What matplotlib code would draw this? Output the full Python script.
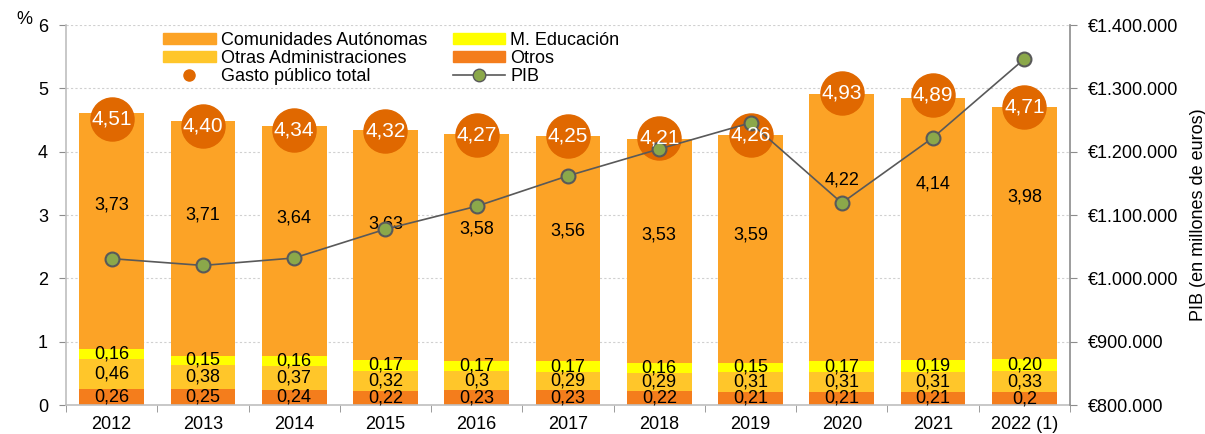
import matplotlib
matplotlib.use("Agg")
import matplotlib.pyplot as plt
import numpy as np
from matplotlib.patches import Patch
from matplotlib.lines import Line2D
from matplotlib.ticker import FuncFormatter

plt.rcParams["font.family"] = ["Liberation Sans", "DejaVu Sans"]

# ------------------------------------------------------------------ data --
years = ["2012", "2013", "2014", "2015", "2016", "2017", "2018", "2019",
         "2020", "2021", "2022 (1)"]
otros = [0.26, 0.25, 0.24, 0.22, 0.23, 0.23, 0.22, 0.21, 0.21, 0.21, 0.20]
otras_adm = [0.46, 0.38, 0.37, 0.32, 0.30, 0.29, 0.29, 0.31, 0.31, 0.31, 0.33]
m_educacion = [0.16, 0.15, 0.16, 0.17, 0.17, 0.17, 0.16, 0.15, 0.17, 0.19, 0.20]
ccaa = [3.73, 3.71, 3.64, 3.63, 3.58, 3.56, 3.53, 3.59, 4.22, 4.14, 3.98]
gasto_total = [4.51, 4.40, 4.34, 4.32, 4.27, 4.25, 4.21, 4.26, 4.93, 4.89, 4.71]
pib = [1031099, 1020348, 1032158, 1077590, 1113840, 1161878, 1204241,
       1245513, 1119010, 1222290, 1346377]

# label strings as printed in the source
otros_lbl = ["0,26", "0,25", "0,24", "0,22", "0,23", "0,23", "0,22", "0,21", "0,21", "0,21", "0,2"]
otras_lbl = ["0,46", "0,38", "0,37", "0,32", "0,3", "0,29", "0,29", "0,31", "0,31", "0,31", "0,33"]
# where the CCAA value label sits inside its segment (fraction of segment height)
ca_label_frac = [0.61, 0.60, 0.60, 0.59, 0.58, 0.58, 0.57, 0.56, 0.68, 0.67, 0.64]

C_CA = "#FCA326"
C_OA = "#FFC62A"
C_ME = "#FFFF00"
C_OT = "#F47D1C"
C_TOT = "#E06800"
C_PIB = "#8BA84A"
C_GREY = "#8C8C8C"

# ------------------------------------------------------------------ plot --
fig = plt.figure(figsize=(12.05, 4.34), dpi=100)
ax = fig.add_axes([66 / 1205, 1 - 405 / 434, (1070 - 66) / 1205, (405 - 25) / 434])
x = np.arange(len(years))
w = 0.71

b0 = np.zeros(len(years))
b1 = b0 + np.array(otros)
b2 = b1 + np.array(otras_adm)
b3 = b2 + np.array(m_educacion)
ax.bar(x, otros, w, bottom=b0, color=C_OT, zorder=2)
ax.bar(x, otras_adm, w, bottom=b1, color=C_OA, zorder=2)
ax.bar(x, m_educacion, w, bottom=b2, color=C_ME, zorder=2)
ax.bar(x, ccaa, w, bottom=b3, color=C_CA, zorder=2)

fs = 13
for i in range(len(years)):
    ax.text(x[i], b0[i] + otros[i] / 2, otros_lbl[i], ha="center", va="center", fontsize=fs, zorder=3)
    ax.text(x[i], b1[i] + otras_adm[i] / 2, otras_lbl[i], ha="center", va="center", fontsize=fs, zorder=3)
    ax.text(x[i], b2[i] + m_educacion[i] / 2, f"{m_educacion[i]:.2f}".replace(".", ","),
            ha="center", va="center", fontsize=fs, zorder=3)
    ax.text(x[i], b3[i] + ccaa[i] * ca_label_frac[i], f"{ccaa[i]:.2f}".replace(".", ","),
            ha="center", va="center", fontsize=fs, zorder=3)

ax.plot(x, gasto_total, "o", color=C_TOT, markersize=31, zorder=4)

ax.set_xlim(-0.5, len(years) - 0.5)
ax.set_ylim(0, 6)
ax.set_yticks(range(7))
ax.set_xticks(x)
ax.set_xticklabels(years)
ax.set_xticks(np.arange(-0.5, len(years)), minor=True)
ax.tick_params(axis="x", which="major", length=0, labelsize=13, pad=8)
ax.tick_params(axis="x", which="minor", length=5, color=C_GREY)
ax.tick_params(axis="y", length=5, color=C_GREY, labelsize=13, pad=8)
ax.grid(axis="y", color="#D0D0D0", linestyle=(0, (2, 2)), linewidth=0.8, zorder=0)
ax.set_axisbelow(True)
for s in ["top", "right"]:
    ax.spines[s].set_visible(False)
for s in ["left", "bottom"]:
    ax.spines[s].set_color("#BFBFBF")
    ax.spines[s].set_linewidth(1.2)
fig.text(16 / 1205, 1 - 20 / 434, "%", fontsize=13, ha="left", va="center")

# PIB on the secondary axis
ax2 = ax.twinx()
ax2.plot(x, pib, "-o", color="#595959", linewidth=1.2, markersize=10,
         markerfacecolor=C_PIB, markeredgecolor="#595959", markeredgewidth=1.5, zorder=5)
for i in range(len(years)):
    ax2.text(x[i], gasto_total[i], f"{gasto_total[i]:.2f}".replace(".", ","),
             transform=ax.transData, ha="center", va="center", color="white",
             fontsize=15, zorder=6)
ax2.set_ylim(800000, 1400000)
ax2.set_yticks(np.arange(800000, 1400001, 100000))
ax2.yaxis.set_major_formatter(FuncFormatter(lambda v, p: "€" + f"{int(v):,}".replace(",", ".")))
ax2.tick_params(axis="y", length=5, color=C_GREY, labelsize=13, pad=8)
ax2.set_ylabel("PIB (en millones de euros)", fontsize=13, labelpad=8)
for s in ["top", "left", "bottom"]:
    ax2.spines[s].set_visible(False)
ax2.spines["right"].set_color(C_GREY)
ax2.spines["right"].set_linewidth(1.2)

handles = [
    Patch(color=C_CA, label="Comunidades Autónomas"),
    Patch(color=C_OA, label="Otras Administraciones"),
    Line2D([], [], marker="o", linestyle="none", color=C_TOT, markersize=8, label="Gasto público total"),
    Patch(color=C_ME, label="M. Educación"),
    Patch(color=C_OT, label="Otros"),
    Line2D([], [], color="#595959", marker="o", markerfacecolor=C_PIB, markeredgecolor="#595959",
           markersize=9, linewidth=1.2, label="PIB"),
]
leg = ax2.legend(handles=handles, ncol=2, loc="upper left", frameon=False, fontsize=13,
                 bbox_to_anchor=(156 / 1205, 1 - 25 / 434), bbox_transform=fig.transFigure,
                 handlelength=2.9, handleheight=0.55, labelspacing=0.05, columnspacing=1.4,
                 handletextpad=0.3, borderaxespad=0)
leg.set_zorder(10)

fig.savefig("out.png", dpi=100)
